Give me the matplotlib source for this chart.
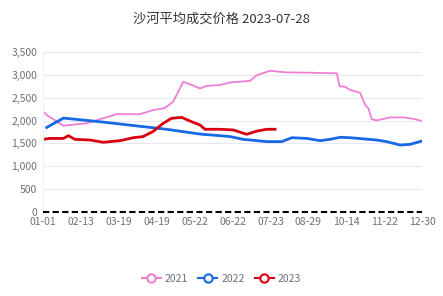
import matplotlib
matplotlib.use("Agg")
import matplotlib.pyplot as plt
from matplotlib.lines import Line2D

plt.rcParams['font.family'] = ['Noto Sans CJK SC', 'DejaVu Sans']

tick_labels = ['01-01', '02-13', '03-19', '04-19', '05-22', '06-22',
               '07-23', '08-29', '10-14', '11-22', '12-30']

# day index on the category axis (0..100) and price
x_2021 = [0, 1, 5.4, 11.5, 15, 19.4, 25.6, 29, 32, 34.3, 37, 39.2, 41.4, 43.2,
          46.7, 49.3, 54.6, 56.4, 59.9, 64.3, 69.6, 77.5, 78.2, 79.7, 81, 83.6,
          85, 85.8, 86.7, 88, 91.6, 95, 97.6, 100]
y_2021 = [2200, 2120, 1890, 1940, 2030, 2140, 2140, 2230, 2270, 2410, 2850, 2780,
          2705, 2760, 2780, 2835, 2870, 2995, 3090, 3055, 3050, 3035, 2755, 2740,
          2670, 2610, 2340, 2270, 2030, 2005, 2070, 2070, 2040, 1990]

x_2022 = [1, 5.4, 15, 32.6, 41.4, 46.7, 49.3, 52.8, 59, 63, 65.6, 69.6, 73.1,
          75.7, 78.4, 81, 84.5, 88, 90.6, 94.2, 96.8, 100]
y_2022 = [1850, 2055, 1975, 1810, 1705, 1670, 1650, 1590, 1540, 1540, 1625, 1610,
          1560, 1590, 1635, 1625, 1600, 1575, 1540, 1465, 1480, 1555]

x_2023 = [0, 1.8, 5.4, 6.7, 8.4, 12.4, 15.9, 20.3, 23.8, 26.4, 29, 31.7, 33.9,
          36.6, 39.2, 41.4, 42.7, 46.7, 50.2, 53.7, 56.4, 59, 61.2]
y_2023 = [1590, 1610, 1610, 1670, 1590, 1575, 1525, 1560, 1625, 1650, 1760, 1940,
          2050, 2070, 1975, 1905, 1810, 1810, 1795, 1700, 1770, 1810, 1810]

c21, c22, c23 = '#ef7fd2', '#1769e4', '#d8000f'

fig = plt.figure(figsize=(4.43, 2.96), dpi=100)
ax = fig.add_axes([0.097, 0.284, 0.856, 0.54])

ax.plot(x_2021, y_2021, color=c21, lw=1.3)
ax.plot(x_2022, y_2022, color=c22, lw=2.0)
ax.plot(x_2023, y_2023, color=c23, lw=2.0)
ax.axhline(0, color='black', lw=1.5, ls=(0, (3, 1.6)), zorder=5, clip_on=False)

ax.set_xlim(0, 100)
ax.set_ylim(0, 3500)
ax.set_xticks(range(0, 101, 10))
ax.set_xticklabels(tick_labels)
ax.set_yticks(range(0, 3501, 500))
ax.set_yticklabels([f'{v:,}' for v in range(0, 3501, 500)])
ax.tick_params(length=0, labelsize=7.5, colors='#6e7079', pad=4)
ax.grid(axis='y', color='#e6e9f2', lw=0.8)
ax.set_axisbelow(True)
for s in ['top', 'right', 'bottom']:
    ax.spines[s].set_visible(False)
ax.spines['left'].set_color('#eef0f5')

fig.text(0.5, 0.935, '沙河平均成交价格 2023-07-28', ha='center', va='center',
         fontsize=9.5, color='#333333')

handles = [Line2D([], [], color=c, lw=1.5, marker='o', markersize=6,
                  markerfacecolor='white', markeredgewidth=1.5)
           for c in (c21, c22, c23)]
fig.legend(handles, ['2021', '2022', '2023'], loc='center',
           bbox_to_anchor=(0.5, 0.058), ncol=3, frameon=False,
           fontsize=7.5, labelcolor='#6e7079', handlelength=1.8,
           handletextpad=0.4, columnspacing=1.0)

fig.savefig('out.png', dpi=100)
